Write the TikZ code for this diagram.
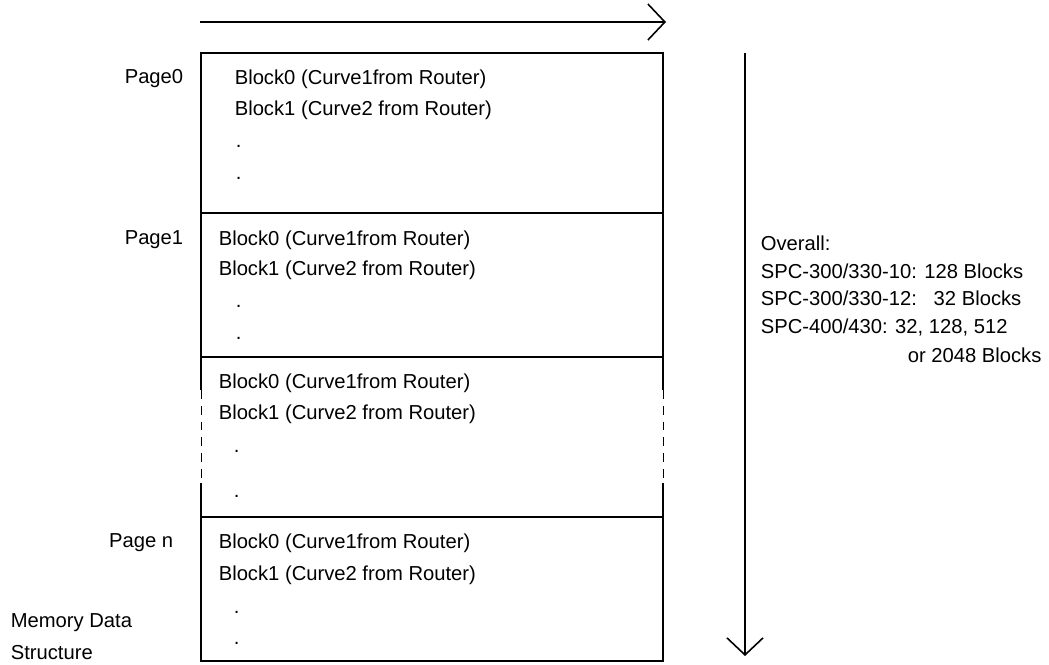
\documentclass[tikz,border=0pt]{standalone}
\usepackage{fontspec}
\setmainfont{Liberation Sans}
\usetikzlibrary{arrows.meta}
\begin{document}
\begin{tikzpicture}[x=0.02cm,y=-0.02cm,line width=0.9pt,
    txt/.style={anchor=west,inner sep=0pt,font=\fontsize{11.5}{13}\selectfont},
    lbl/.style={anchor=east,inner sep=0pt,font=\fontsize{11.5}{13}\selectfont},
    barb/.style={-{Straight Barb[length=0.34cm,width=0.72cm,line width=0.9pt]}}]
  \useasboundingbox (0,0) rectangle (1049,664);
  % direction arrows
  \coordinate (h0) at (200,22);
  \coordinate (h1) at (666,22);
  \coordinate (v0) at (745,53);
  \coordinate (v1) at (745,656);
  \draw[barb] (h0) -- (h1);
  \draw[barb] (v0) -- (v1);
  % memory pages
  \draw (201,53) rectangle (663,213);
  \draw (201,213) rectangle (663,357);
  \draw (201,517) rectangle (663,661);
  \draw (201,357) -- (201,390) (663,357) -- (663,390);
  \draw (201,483) -- (201,517) (663,483) -- (663,517);
  \begin{scope}[line width=0.5pt,dash pattern=on 5pt off 4pt]
    \draw (201,390) -- (201,483);
    \draw (663,390) -- (663,483);
  \end{scope}
  % page labels
  \draw
    (184,79) node[lbl] (p0){Page0}
    (184,240) node[lbl] (p1){Page1}
    (174,543) node[lbl] (pn){Page n}
    (10,623) node[txt] (m0){Memory Data}
    (10,653) node[txt] (m1){Structure};
  % blocks
  \draw
    (234,79) node[txt] (b00){Block0 (Curve1from Router)}
    (234,110) node[txt] (b01){Block1 (Curve2 from Router)}
    (235,146) node[txt] (d00){.}
    (235,178) node[txt] (d01){.}
    (218,240) node[txt] (b10){Block0 (Curve1from Router)}
    (218,270) node[txt] (b11){Block1 (Curve2 from Router)}
    (235,306) node[txt] (d10){.}
    (235,338) node[txt] (d11){.}
    (218,383) node[txt] (b20){Block0 (Curve1from Router)}
    (218,414) node[txt] (b21){Block1 (Curve2 from Router)}
    (233,451) node[txt] (d20){.}
    (233,496) node[txt] (d21){.}
    (218,543) node[txt] (bn0){Block0 (Curve1from Router)}
    (218,575) node[txt] (bn1){Block1 (Curve2 from Router)}
    (233,612) node[txt] (dn0){.}
    (233,643) node[txt] (dn1){.};
  % sizes
  \draw
    (760,243) node[txt] (o0){Overall:}
    (760,271) node[txt] (o1){SPC-300/330-10: 128 Blocks}
    (760,298) node[txt] (o2){SPC-300/330-12:\ \ \ 32 Blocks}
    (760,327) node[txt] (o3){SPC-400/430: 32, 128, 512}
    (907,355) node[txt] (o4){or 2048 Blocks};
\end{tikzpicture}
\end{document}
